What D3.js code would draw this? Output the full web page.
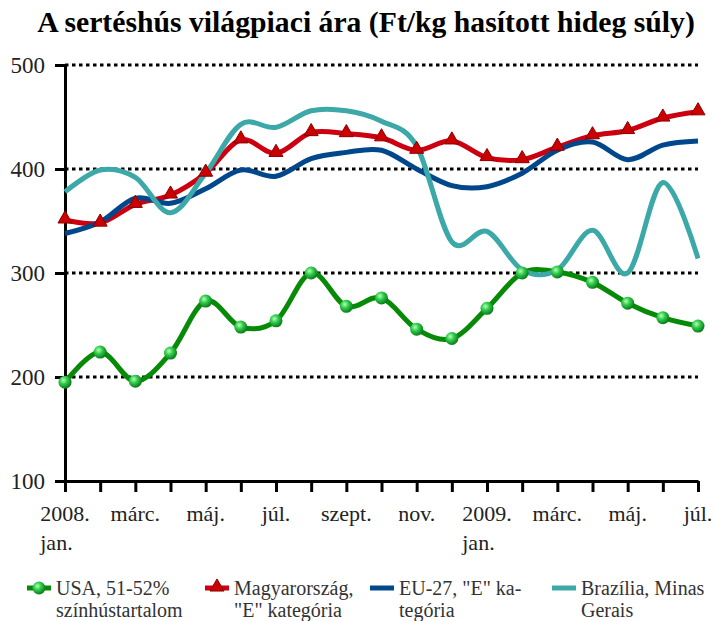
<!DOCTYPE html>
<html>
<head>
<meta charset="utf-8">
<script src="https://cdn.jsdelivr.net/npm/d3@7"></script>
<style>
  body { margin: 0; background: #fff; }
  svg { display: block; }
</style>
</head>
<body>
<div id="chart"></div>
<script>
// months of the period, Jan 2008 - Jul 2009
const months = ['2008-01','2008-02','2008-03','2008-04','2008-05','2008-06','2008-07','2008-08','2008-09','2008-10','2008-11','2008-12',
                '2009-01','2009-02','2009-03','2009-04','2009-05','2009-06','2009-07']
// category labels (only every second month is labelled), '|' = line break
const tickLabels = ['2008.|jan.','','márc.','','máj.','','júl.','','szept.','','nov.','','2009.|jan.','','márc.','','máj.','','júl.']
const yTicks = [100, 200, 300, 400, 500]

// Ft/kg values
const usa    = [195, 224, 196, 223, 273, 248, 254, 300, 268, 276, 246, 237, 266, 300, 301, 291, 271, 257, 249]
const hungary= [351, 348, 366, 375, 396, 428, 415, 435, 434, 430, 418, 427, 411, 409, 421, 432, 437, 449, 455]
const eu27   = [338, 349, 372, 367, 381, 399, 393, 410, 416, 418, 400, 384, 383, 396, 418, 426, 409, 423, 427]
const brazil = [378, 399, 392, 358, 396, 443, 440, 456, 456, 446, 422, 330, 340, 303, 303, 341, 300, 387, 314]

const seriesNames = ['USA, 51-52%|színhústartalom', 'Magyarország,|"E" kategória', 'EU-27, "E" ka-|tegória', 'Brazília, Minas|Gerais']
const colors = ['#078a07', '#cc0010', '#00478c', '#3ca8a8']

const width = 715, height = 621
const serif = "'Liberation Serif', serif"

const svg = d3.select('#chart').append('svg')
    .attr('width', width)
    .attr('height', height)
    .style('background', '#fff')

const defs = svg.append('defs')
const grad = defs.append('radialGradient').attr('id', 'ball')
    .attr('cx', '38%').attr('cy', '35%').attr('r', '65%')
grad.append('stop').attr('offset', '0%').attr('stop-color', '#b8ffb8')
grad.append('stop').attr('offset', '45%').attr('stop-color', '#2fcc4a')
grad.append('stop').attr('offset', '100%').attr('stop-color', '#0b7a1c')

// scales
const x = d3.scaleLinear().domain([0, months.length - 1]).range([65, 698])
const y = d3.scaleLinear().domain([100, 500]).range([481, 65])

// title
const title = svg.append('text')
    .attr('x', 366).attr('y', 32)
    .attr('text-anchor', 'middle')
    .style('font-family', serif)
    .style('font-weight', 'bold')
    .style('font-size', '26px')
    .attr('fill', '#000')
    .text('A sertéshús világpiaci ára (Ft/kg hasított hideg súly)')
// fit title width to the original
const tw = title.node().getComputedTextLength()
title.style('font-size', (26 * 658 / tw) + 'px')

// dotted gridlines
svg.append('g').selectAll('line')
    .data(yTicks.filter(d => d > 100))
    .join('line')
    .attr('x1', 65).attr('x2', 698)
    .attr('y1', d => y(d)).attr('y2', d => y(d))
    .attr('stroke', '#000')
    .attr('stroke-width', 3)
    .attr('stroke-dasharray', '3.5,3.5')

// y axis
const yAxis = svg.append('g')
    .attr('transform', 'translate(65,0)')
    .call(d3.axisLeft(y).tickValues(yTicks).tickSize(10).tickSizeOuter(0).tickPadding(10))
yAxis.selectAll('path, line').attr('stroke', '#000').attr('stroke-width', 3)
yAxis.selectAll('text')
    .style('font-family', serif).style('font-size', '23px').attr('fill', '#222')

// x axis
const xAxis = svg.append('g')
    .attr('transform', `translate(0,${y(100)})`)
    .call(d3.axisBottom(x).tickValues(d3.range(months.length)).tickSize(11).tickSizeOuter(0).tickFormat(''))
xAxis.selectAll('path, line').attr('stroke', '#000').attr('stroke-width', 3)

// x labels (two lines, second line left-aligned to the first)
const labels = svg.append('g')
tickLabels.forEach((lab, i) => {
    if (!lab) return
    const parts = lab.split('|')
    const t = labels.append('text')
        .attr('x', x(i)).attr('y', 521)
        .attr('text-anchor', 'middle')
        .style('font-family', serif).style('font-size', '22px').attr('fill', '#222')
        .text(parts[0])
    if (parts[1]) {
        const w = t.node().getComputedTextLength()
        labels.append('text')
            .attr('x', x(i) - w / 2).attr('y', 550)
            .style('font-family', serif).style('font-size', '22px').attr('fill', '#222')
            .text(parts[1])
    }
})

// lines
const line = d3.line()
    .x((d, i) => x(i))
    .y(d => y(d))
    .curve(d3.curveCardinal.tension(0))

const allSeries = [usa, hungary, eu27, brazil]
const plot = svg.append('g')
allSeries.forEach((s, k) => {
    plot.append('path')
        .datum(s)
        .attr('fill', 'none')
        .attr('stroke', colors[k])
        .attr('stroke-width', 5)
        .attr('stroke-linejoin', 'round')
        .attr('d', line)
})

// markers
const tri = d3.symbol().type(d3.symbolTriangle).size(85)
plot.append('g').selectAll('path')
    .data(hungary)
    .join('path')
    .attr('transform', (d, i) => `translate(${x(i)},${y(d) - 1})`)
    .attr('d', tri)
    .attr('fill', '#cc0000')
    .attr('stroke', '#8a0000')
    .attr('stroke-width', 1)

plot.append('g').selectAll('circle')
    .data(usa)
    .join('circle')
    .attr('cx', (d, i) => x(i))
    .attr('cy', d => y(d))
    .attr('r', 6.5)
    .attr('fill', 'url(#ball)')

// legend
const legendX = [27, 205, 370, 552]
const legend = svg.append('g')
seriesNames.forEach((name, k) => {
    const g = legend.append('g').attr('transform', `translate(${legendX[k]},0)`)
    g.append('line')
        .attr('x1', 0).attr('x2', 24)
        .attr('y1', 588).attr('y2', 588)
        .attr('stroke', colors[k]).attr('stroke-width', 5)
    if (k === 0) {
        g.append('circle').attr('cx', 12).attr('cy', 588).attr('r', 6.5).attr('fill', 'url(#ball)')
    }
    if (k === 1) {
        g.append('path').attr('transform', 'translate(12,587)').attr('d', tri)
            .attr('fill', '#cc0000').attr('stroke', '#8a0000').attr('stroke-width', 1)
    }
    const parts = name.split('|')
    parts.forEach((p, j) => {
        g.append('text')
            .attr('x', 29)
            .attr('y', 595 + j * 22)
            .style('font-family', serif).style('font-size', '20px').attr('fill', '#333')
            .text(p)
    })
})
</script>
</body>
</html>
